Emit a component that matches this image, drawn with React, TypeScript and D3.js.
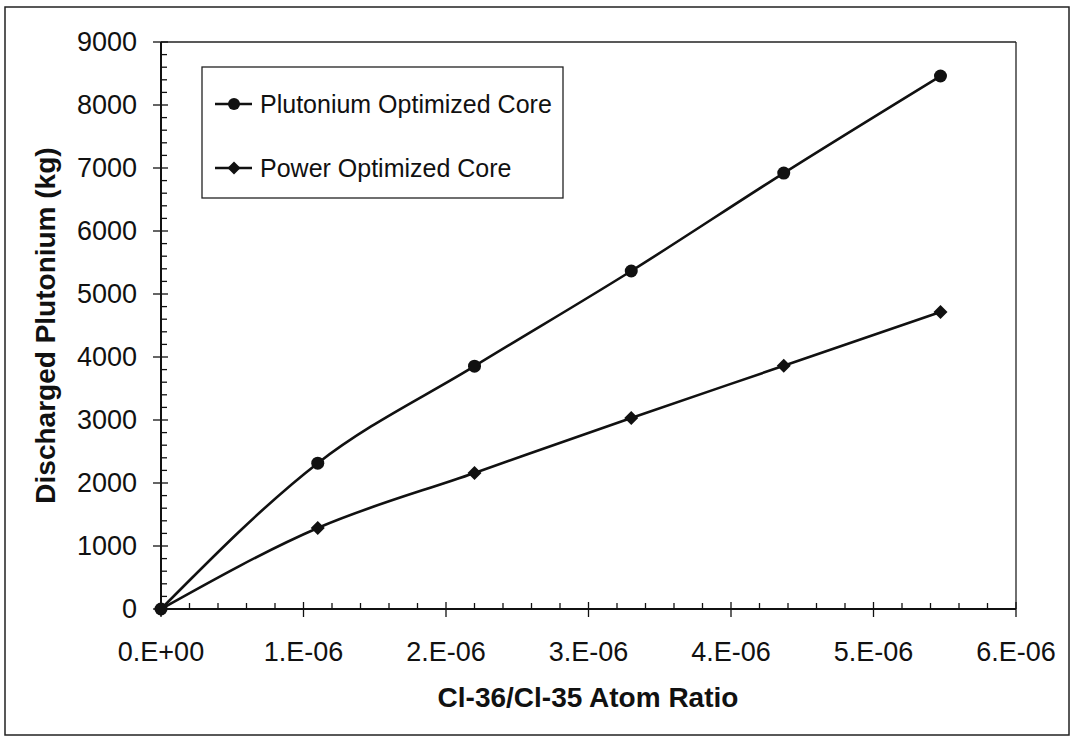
import React from "react";
import * as d3 from "d3";

const xValues = [0, 1.1e-6, 2.2e-6, 3.3e-6, 4.37e-6, 5.47e-6];
const plutoniumCore = [0, 2315, 3855, 5365, 6920, 8460];
const powerCore = [0, 1286, 2159, 3032, 3860, 4714];
const seriesNames = ["Plutonium Optimized Core", "Power Optimized Core"];
const xTicks = [0, 1e-6, 2e-6, 3e-6, 4e-6, 5e-6, 6e-6];
const xTickLabels = ["0.E+00", "1.E-06", "2.E-06", "3.E-06", "4.E-06", "5.E-06", "6.E-06"];
const yTicks = [0, 1000, 2000, 3000, 4000, 5000, 6000, 7000, 8000, 9000];
const xTitle = "Cl-36/Cl-35 Atom Ratio";
const yTitle = "Discharged Plutonium (kg)";

const W = 1077, H = 738;
const L = 161, R = 1016, T = 42, B = 609;
const FONT = "'Liberation Sans', Arial, Helvetica, sans-serif";

export default function App() {
  const x = d3.scaleLinear().domain([0, 6e-6]).range([L, R]);
  const y = d3.scaleLinear().domain([0, 9000]).range([B, T]);
  const line = d3
    .line<number>()
    .x((_, i) => x(xValues[i]))
    .y((d) => y(d))
    .curve(d3.curveMonotoneX);

  const xMinor = d3.range(0, 30).map((i) => i * 0.2e-6).filter((v, i) => i % 5 !== 0);
  const yMinor = d3.range(0, 45).map((i) => i * 200).filter((v, i) => i % 5 !== 0);

  const diamond = (cx: number, cy: number, r: number) =>
    `M${cx},${cy - r}L${cx + r},${cy}L${cx},${cy + r}L${cx - r},${cy}Z`;

  return (
    <svg
      width={W}
      height={H}
      style={{ position: "absolute", left: 0, top: 0, background: "#fff" }}
      fontFamily={FONT}
    >
      <rect x={0} y={0} width={W} height={H} fill="#fff" />
      {/* outer frame */}
      <rect x={5} y={7} width={1064} height={728} fill="none" stroke="#222" strokeWidth={1.5} />
      {/* plot area box top/right */}
      <line x1={L} x2={R} y1={T} y2={T} stroke="#222" strokeWidth={1.3} />
      <line x1={R} x2={R} y1={T} y2={B} stroke="#222" strokeWidth={1.3} />

      {/* y axis */}
      <line x1={L} x2={L} y1={T} y2={B} stroke="#111" strokeWidth={2} />
      {yMinor.map((v) => (
        <line key={"ym" + v} x1={L} x2={L + 6} y1={y(v)} y2={y(v)} stroke="#111" strokeWidth={1.3} />
      ))}
      {yTicks.map((v) => (
        <g key={"y" + v}>
          <line x1={L - 8} x2={L + 7} y1={y(v)} y2={y(v)} stroke="#111" strokeWidth={1.3} />
          <text x={137} y={y(v)} dy="0.35em" textAnchor="end" fontSize={27} fill="#111">
            {v}
          </text>
        </g>
      ))}

      {/* x axis */}
      <line x1={L} x2={R} y1={B} y2={B} stroke="#111" strokeWidth={2} />
      {xMinor.map((v, i) => (
        <line key={"xm" + i} x1={x(v)} x2={x(v)} y1={B - 6} y2={B} stroke="#111" strokeWidth={1.3} />
      ))}
      {xTicks.map((v, i) => (
        <g key={"x" + i}>
          <line x1={x(v)} x2={x(v)} y1={B - 7} y2={B + 8} stroke="#111" strokeWidth={1.3} />
          <text x={x(v)} y={652} dy="0.35em" textAnchor="middle" fontSize={27} fill="#111">
            {xTickLabels[i]}
          </text>
        </g>
      ))}

      {/* titles */}
      <text x={588} y={697} dy="0.35em" textAnchor="middle" fontSize={28} fontWeight="bold" fill="#111">
        {xTitle}
      </text>
      <text
        transform={`translate(45,${(T + B) / 2}) rotate(-90)`}
        dy="0.35em"
        textAnchor="middle"
        fontSize={28}
        fontWeight="bold"
        fill="#111"
      >
        {yTitle}
      </text>

      {/* series */}
      <path d={line(plutoniumCore) || ""} fill="none" stroke="#111" strokeWidth={2.6} />
      <path d={line(powerCore) || ""} fill="none" stroke="#111" strokeWidth={2.6} />
      {plutoniumCore.map((v, i) => (
        <circle key={"pc" + i} cx={x(xValues[i])} cy={y(v)} r={6.5} fill="#111" />
      ))}
      {powerCore.map((v, i) => (
        <path key={"pw" + i} d={diamond(x(xValues[i]), y(v), 7)} fill="#111" />
      ))}

      {/* legend */}
      <rect x={202} y={67} width={361} height={131} fill="#fff" stroke="#222" strokeWidth={1.3} />
      <line x1={215} x2={252} y1={104} y2={104} stroke="#111" strokeWidth={2.6} />
      <circle cx={234} cy={104} r={6} fill="#111" />
      <text x={260} y={104} dy="0.35em" fontSize={25} fill="#111">
        {seriesNames[0]}
      </text>
      <line x1={215} x2={252} y1={168} y2={168} stroke="#111" strokeWidth={2.6} />
      <path d={diamond(234, 168, 6.5)} fill="#111" />
      <text x={260} y={168} dy="0.35em" fontSize={25} fill="#111">
        {seriesNames[1]}
      </text>
    </svg>
  );
}
